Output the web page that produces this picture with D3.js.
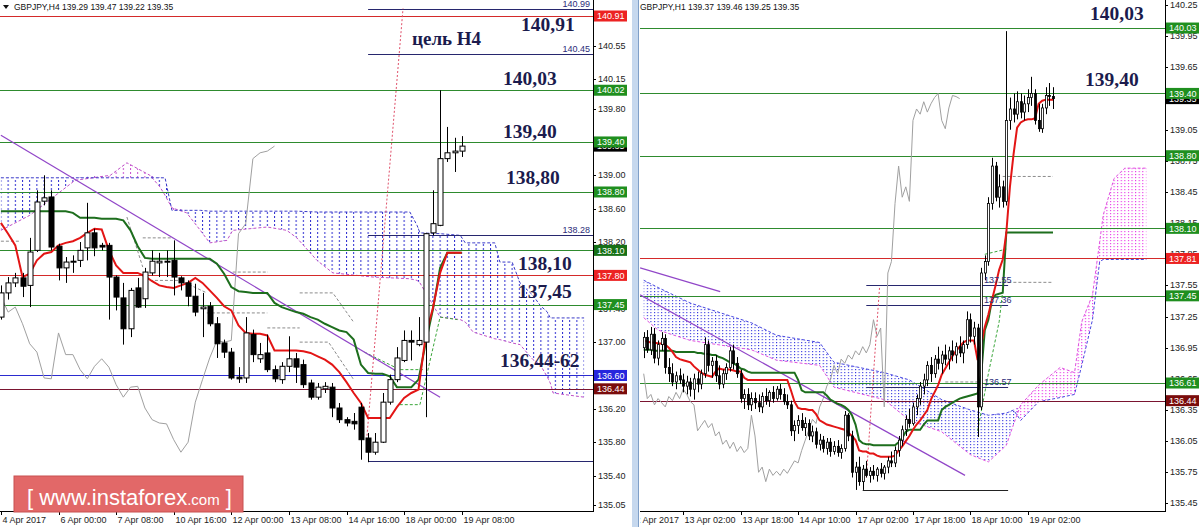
<!DOCTYPE html>
<html><head><meta charset="utf-8">
<script src="https://cdn.jsdelivr.net/npm/d3@7/dist/d3.min.js"></script>
<style>
html,body{margin:0;padding:0;background:#fff;}
svg{display:block;}
text{font-family:"Liberation Sans",Arial,sans-serif;}
text.note{font-family:"Liberation Serif","Times New Roman",serif;font-weight:bold;}
</style></head><body>
<svg id="chart" width="1200" height="527"></svg>
<script>
// ================= DATA : GBPJPY H4 (left) =================
const h4Candles = [ // [open, high, low, close]
[137.30,137.68,137.27,137.59],[137.59,137.78,137.51,137.71],[137.71,137.83,137.66,137.77],[137.77,137.83,137.54,137.67],
[137.68,138.25,137.42,138.08],[138.10,138.82,138.08,138.68],[138.69,139.00,138.64,138.73],[138.74,138.82,138.10,138.14],
[138.15,138.18,137.74,137.89],[137.89,138.02,137.71,137.96],[137.96,138.04,137.83,137.97],[137.98,138.20,137.90,138.10],
[138.13,138.67,137.98,138.31],[138.31,138.36,138.03,138.13],[138.16,138.19,138.10,138.14],[138.16,138.19,137.27,137.78],
[137.78,137.80,137.38,137.54],[137.53,137.71,136.97,137.16],[137.16,137.65,137.06,137.62],[137.65,137.77,137.41,137.42],
[137.52,137.89,137.41,137.84],[137.83,138.10,137.80,137.97],[137.95,138.07,137.78,137.97],[137.96,138.10,137.78,137.97],
[137.98,138.22,137.56,137.78],[137.77,137.79,137.62,137.71],[137.71,137.74,137.43,137.55],[137.55,137.70,137.31,137.36],
[137.40,137.59,137.06,137.42],[137.43,137.48,137.19,137.22],[137.22,137.30,136.81,136.98],[136.99,137.03,136.81,136.88],
[136.88,136.93,136.55,136.57],[136.58,136.70,136.51,136.56],[136.57,137.30,136.51,137.11],[137.09,137.15,136.76,136.85],
[136.80,136.99,136.75,136.85],[136.87,137.09,136.64,136.67],[136.67,136.72,136.52,136.56],[136.55,136.76,136.50,136.71],
[136.71,137.07,136.64,136.80],[136.80,136.87,136.51,136.70],[136.73,136.79,136.45,136.49],[136.51,136.55,136.31,136.34],
[136.34,136.51,136.31,136.46],[136.44,136.52,136.39,136.47],[136.46,136.51,136.10,136.21],[136.21,136.27,136.03,136.07],
[136.07,136.10,135.99,136.03],[136.05,136.15,135.95,136.02],[136.22,136.27,135.59,135.83],[135.85,135.91,135.56,135.68],
[135.68,135.91,135.65,135.80],[135.80,136.39,135.79,136.28],[136.28,136.61,136.25,136.55],[136.55,136.94,136.52,136.81],
[136.78,137.14,136.76,137.02],[137.02,137.14,136.78,137.00],[136.97,137.30,136.95,137.02],[137.00,138.31,136.10,138.30],
[138.31,138.82,138.28,138.42],[138.40,140.02,138.39,139.20],[139.20,139.58,139.16,139.27],[139.27,139.45,139.04,139.29],
[139.29,139.47,139.22,139.35]];
const h4Tenkan = [138.43,138.30,138.16,137.78,137.82,137.98,138.06,138.08,138.16,138.19,138.21,138.25,138.31,138.36,138.35,
138.10,137.92,137.83,137.83,137.83,137.79,137.73,137.68,137.66,137.65,137.68,137.71,137.77,137.71,137.62,137.53,137.43,
137.38,137.20,137.11,137.10,137.10,137.08,136.90,136.90,136.90,136.90,136.89,136.87,136.83,136.79,136.73,136.64,136.52,
136.39,136.27,136.09,136.09,136.09,136.09,136.22,136.33,136.39,136.43,137.08,137.41,137.83,138.07,138.07,138.07];
const h4Kijun = [138.57,138.57,138.57,138.57,138.57,138.57,138.57,138.57,138.57,138.57,138.55,138.49,138.49,138.49,138.48,
138.48,138.48,138.46,138.34,138.15,138.01,138.00,138.00,138.00,138.00,138.00,138.00,138.00,138.00,138.00,137.94,137.82,
137.66,137.61,137.60,137.59,137.59,137.59,137.47,137.42,137.39,137.36,137.34,137.30,137.27,137.22,137.18,137.14,137.12,
137.03,136.73,136.63,136.62,136.62,136.59,136.46,136.46,136.46,136.55,136.99,137.39,137.89,138.07,138.07,138.07];
const h4Cloud = [ // [bar, senkou A, senkou B]
[0,138.34,138.97],[4,138.52,138.97],[10.3,138.94,138.97],[15.2,139.00,138.97],[17.5,139.15,138.97],[20.7,139.00,138.97],
[22.1,138.86,138.97],[22.8,138.76,138.97],[23.75,138.61,138.58],[25.8,138.55,138.58],[27.7,138.34,138.58],[29,138.19,138.57],
[31.4,138.22,138.57],[32.2,138.34,138.57],[37,138.38,138.57],[39.7,138.34,138.57],[41.1,138.25,138.57],[43.9,137.98,138.56],
[46.1,137.83,138.56],[51.7,137.78,138.56],[56.8,137.76,138.56],[57.8,137.74,138.40],[58.2,137.71,138.31],[61,137.30,138.30],
[63.8,137.27,138.28],[64.5,137.24,138.19],[65.6,137.12,138.19],[68.6,137.04,138.19],[69.3,137.03,137.96],[71,136.99,137.96],
[72.1,136.97,137.71],[73.9,136.79,137.56],[74.9,136.73,137.44],[75.9,136.58,137.36],[76.3,136.51,137.29],[76.7,136.39,137.29],
[81,136.34,137.29]];
const h4GreenLevels = [140.02,139.40,138.80,138.10,137.45];
const h4RedLevels = [140.91,137.80];
const h4BlueLevels = [136.60];
const h4MaroonLevels = [136.44];
const h4MarkLevels = [140.99,140.45,138.28,135.57];
const h4MarkFrom = 51;
const h4Trend = [[0,139.48],[61,136.34]];
const h4RedDotted = [[50.8,135.83],[55.85,141.00]];
const h4DashGray = [
 [[0,138.21],[2.7,138.21]], [[17.5,138.50],[19.7,137.90]], [[19.7,138.25],[23.9,138.25]],
 [[20.7,137.74],[24.9,137.74],[28.6,137.59]], [[28.6,137.35],[37,137.35]], [[32.2,137.84],[37.1,137.84]],
 [[37,137.17],[41.5,137.17]], [[41.5,137.59],[46.1,137.59],[48.9,137.25]], [[41.5,137.0],[45.5,137.0],[49,136.55]]];
const h4DashGreen = [
 [[50.5,136.88],[55.4,136.67],[58.6,136.67]], [[55.4,136.25],[58.2,136.25],[61,137.30],[63.4,137.27]]];
const h4YTicks = [140.55,140.15,139.80,139.40,139.00,138.60,138.20,137.80,137.40,137.00,136.60,136.20,135.80,135.40,135.05];
const h4TimeBars = [0,8,16,24,32,40,48,56,64];
const h4TimeLabels = ["4 Apr 2017","6 Apr 00:00","7 Apr 08:00","10 Apr 16:00","12 Apr 00:00","13 Apr 08:00","14 Apr 16:00","18 Apr 00:00","19 Apr 08:00"];
const h4Header = "GBPJPY,H4  139.29 139.47 139.22 139.35";
const h4Notes = ["цель H4","140,91","140,03","139,40","138,80","138,10","137,45","136,44-62"];

// ================= DATA : GBPJPY H1 (right) =================
const h1Candles = [
[136.95,137.10,136.85,137.05],[137.05,137.12,136.90,136.93],[136.93,137.15,136.88,137.08],[137.08,137.14,136.80,136.85],
[136.85,137.02,136.78,136.98],[136.98,137.10,136.92,137.04],[137.04,137.08,136.70,136.76],[136.76,136.85,136.62,136.70],
[136.70,136.80,136.58,136.62],[136.62,136.72,136.55,136.68],[136.68,136.75,136.60,136.64],[136.64,136.70,136.52,136.58],
[136.58,136.68,136.50,136.62],[136.62,136.66,136.48,136.55],[136.55,136.70,136.45,136.65],[136.65,136.72,136.52,136.60],
[136.60,136.74,136.55,136.70],[136.70,137.05,136.66,136.98],[136.98,137.02,136.72,136.78],[136.78,136.86,136.66,136.82],
[136.82,136.88,136.62,136.68],[136.68,136.78,136.55,136.60],[136.60,136.74,136.56,136.70],[136.70,136.80,136.64,136.76],
[136.76,136.96,136.72,136.92],[136.92,136.98,136.74,136.80],[136.80,136.86,136.66,136.70],[136.70,136.74,136.42,136.46],
[136.46,136.55,136.36,136.50],[136.50,136.56,136.35,136.40],[136.40,136.52,136.34,136.46],[136.46,136.52,136.36,136.42],
[136.42,136.50,136.33,136.38],[136.38,136.52,136.32,136.48],[136.48,136.56,136.40,136.44],[136.44,136.54,136.38,136.52],
[136.52,136.58,136.42,136.46],[136.46,136.58,136.44,136.55],[136.55,136.60,136.45,136.50],[136.50,136.56,136.40,136.43],
[136.43,136.50,136.36,136.40],[136.40,136.44,136.10,136.15],[136.15,136.25,136.05,136.20],[136.20,136.30,136.12,136.25],
[136.25,136.32,136.15,136.18],[136.18,136.28,136.10,136.22],[136.22,136.26,136.06,136.10],[136.10,136.20,136.04,136.14],
[136.14,136.18,135.98,136.02],[136.02,136.12,135.96,136.06],[136.06,136.10,135.94,135.98],[135.98,136.08,135.92,136.04],
[136.04,136.08,135.90,135.95],[135.95,136.05,135.92,136.00],[136.00,136.06,135.90,135.94],[135.94,136.02,135.88,135.98],
[135.98,136.34,135.95,136.30],[136.30,136.32,136.05,136.10],[136.10,136.15,135.70,135.75],[135.75,135.85,135.58,135.80],
[135.80,135.90,135.62,135.66],[135.66,135.82,135.58,135.78],[135.78,135.86,135.70,135.72],[135.72,135.80,135.65,135.76],
[135.76,135.82,135.68,135.72],[135.72,135.80,135.66,135.78],[135.78,135.84,135.70,135.74],[135.74,135.82,135.68,135.80],
[135.80,135.90,135.74,135.86],[135.86,135.95,135.80,135.84],[135.84,136.00,135.80,135.96],[135.96,136.10,135.90,136.06],
[136.06,136.20,136.00,136.16],[136.16,136.30,136.10,136.26],[136.26,136.36,136.18,136.22],[136.22,136.42,136.20,136.38],
[136.38,136.50,136.30,136.46],[136.46,136.62,136.40,136.58],[136.58,136.70,136.50,136.64],[136.64,136.82,136.58,136.78],
[136.78,136.86,136.62,136.70],[136.70,136.88,136.66,136.84],[136.84,136.96,136.74,136.80],[136.80,136.92,136.70,136.88],
[136.88,136.98,136.78,136.84],[136.84,136.96,136.74,136.92],[136.92,137.02,136.82,136.88],[136.88,137.00,136.80,136.96],
[136.96,137.06,136.86,136.90],[136.90,137.02,136.80,136.98],[136.98,137.30,136.94,137.22],[137.22,137.28,137.00,137.06],
[137.06,137.20,136.98,137.14],[137.14,137.18,136.09,136.38],[136.38,137.72,136.35,137.67],[137.67,137.84,137.60,137.78],
[137.78,138.40,137.74,138.34],[138.34,138.78,138.28,138.70],[138.70,138.74,138.36,138.40],[138.40,138.62,138.30,138.50],
[138.50,138.56,138.30,138.36],[138.36,140.00,138.32,139.14],[139.14,139.36,139.05,139.25],[139.25,139.40,139.12,139.20],
[139.20,139.42,139.15,139.32],[139.32,139.40,139.16,139.22],[139.22,139.38,139.14,139.30],[139.30,139.44,139.22,139.36],
[139.36,139.56,139.28,139.40],[139.40,139.44,139.10,139.14],[139.14,139.30,139.03,139.06],[139.06,139.30,139.02,139.26],
[139.26,139.46,139.20,139.38],[139.38,139.50,139.28,139.37],[139.37,139.46,139.25,139.35]];
const h1Tenkan = [137.02,137.01,137.00,137.00,136.99,136.99,136.98,136.95,136.91,136.86,136.84,136.83,136.82,136.81,136.77,
136.74,136.71,136.69,136.68,136.67,136.72,136.75,136.74,136.74,136.74,136.73,136.72,136.72,136.66,136.64,
136.64,136.64,136.64,136.64,136.64,136.64,136.64,136.64,136.64,136.64,136.64,
136.54,136.43,136.37,136.36,136.36,136.35,136.35,136.31,136.25,136.23,136.21,136.20,136.19,136.18,136.17,136.16,136.13,
136.10,136.06,135.96,135.95,135.95,135.93,135.93,135.91,135.90,135.90,135.90,135.90,135.91,135.96,136.00,136.05,136.10,
136.16,136.21,136.25,136.30,136.35,136.45,136.52,136.59,136.69,136.75,136.81,136.87,136.92,136.96,137.00,137.02,137.02,
137.02,136.83,136.98,137.15,137.27,137.41,137.55,137.70,137.80,138.06,138.50,138.81,139.07,139.12,139.14,139.15,139.15,
139.16,139.30,139.33,139.34,139.34,139.34];
const h1Kijun = [136.93,136.93,136.93,136.92,136.92,136.92,136.92,136.92,136.92,136.91,136.91,136.91,136.91,136.91,136.91,
136.90,136.90,136.89,136.89,136.88,136.88,136.86,136.85,136.83,136.81,136.80,136.78,136.75,136.74,136.72,
136.71,136.71,136.71,136.71,136.71,136.71,136.71,136.71,136.71,136.71,136.71,136.71,136.71,
136.64,136.54,136.52,136.52,136.52,136.52,136.52,136.52,136.49,136.45,136.43,136.41,136.40,136.38,136.35,136.30,136.21,
136.06,136.03,136.02,136.02,136.01,136.01,136.01,136.01,136.01,136.01,136.01,136.04,136.08,136.14,136.16,136.16,136.16,
136.16,136.21,136.25,136.25,136.25,136.25,136.35,136.38,136.40,136.42,136.44,136.46,136.47,136.48,136.49,136.50,136.51,
136.69,137.12,137.22,137.41,137.46,137.47,137.48,138.06,
138.06,138.06,138.06,138.06,138.06,138.06,138.06,138.06,138.06,138.06,138.06,138.06,138.06];
const h1Cloud = [
[0,137.24,137.60],[4,137.12,137.53],[13,137.02,137.38],[30,136.93,137.19],[37,136.83,137.07],[49,136.78,137.00],
[53,136.57,136.81],[67,136.45,136.71],[74,136.25,136.64],[83,136.14,136.45],[91,135.92,136.35],[96,135.85,136.30],
[101,136.01,136.32],[103,136.21,136.35],[105,136.40,136.25],[110,136.59,136.43],[116,136.76,136.47],[120,136.71,136.50],
[122,137.20,136.78],[125,137.46,137.22],[127,137.97,137.78],[128,138.23,137.80],[131,138.58,137.80],[134,138.68,137.80],
[140,138.68,137.80]];
const h1GreenLevels = [140.03,139.40,138.80,138.10,137.45,136.61];
const h1RedLevels = [137.81];
const h1MaroonLevels = [136.44];
const h1MarkLevels = [137.55,137.36,136.57];
const h1MarkBars = [62,101.5];
const h1LowLevel = [135.58];
const h1TrendA = [[-1,137.72],[21.3,137.49]];
const h1TrendB = [[-1,137.46],[89.5,135.72]];
const h1RedDotted = [[62,135.70],[65.7,137.54]];
const h1DashGray = [[[100,138.60],[114,138.60]], [[96,137.58],[114,137.58]], [[84,136.62],[93,136.62]]];
const h1DashGreen = [[[93,136.15],[96,136.70],[99,137.20],[100,137.50]], [[95,137.85],[101,137.90]]];
const h1YTicks = [140.25,139.95,139.65,139.35,139.05,138.75,138.45,138.15,137.85,137.55,137.25,136.95,136.65,136.35,136.05,135.75,135.45];
const h1TimeBars = [-4,11,27,43,59,75,91,107];
const h1TimeLabels = ["12 Apr 2017","13 Apr 02:00","13 Apr 18:00","14 Apr 10:00","17 Apr 02:00","17 Apr 18:00","18 Apr 10:00","19 Apr 02:00"];
const h1Header = "GBPJPY,H1  139.37 139.46 139.25 139.35";
const h1Notes = ["140,03","139,40"];

// ================= DRAWING =================
const svg = d3.select('#chart');
const defs = svg.append('defs');
const AXY = 511;
const fmt = d3.format('.2f');
const NAVY = '#1b1b4d';

function drawPanel(p) {
  const n = p.candles.length;
  const x = d3.scaleLinear().domain([0, n-1]).range(p.xRange);
  const y = d3.scaleLinear().domain(p.yDomain).range([AXY, 0]);
  const step = x(1) - x(0);
  const cid = 'clip' + p.id;
  defs.append('clipPath').attr('id', cid).append('rect')
    .attr('x', p.x0).attr('y', 0).attr('width', p.x1 - p.x0).attr('height', AXY);
  const g = svg.append('g').attr('clip-path', `url(#${cid})`);

  // cloud patterns
  const cols = {blue: p.cloudBlue, pink: p.cloudPink};
  Object.keys(cols).forEach(k => {
    const pt = defs.append('pattern').attr('id', `pat${p.id}${k}`).attr('patternUnits', 'userSpaceOnUse')
      .attr('width', step).attr('height', p.dotH).attr('patternTransform', `translate(${x(0) - 0.5},0)`);
    pt.append('rect').attr('width', p.dotW).attr('height', p.dotOn).attr('fill', cols[k]);
  });
  const cl = p.cloud;
  g.append('path').datum(cl).attr('fill', `url(#pat${p.id}blue)`)
    .attr('d', d3.area().x(d => x(d[0])).y0(d => y(d[1])).y1(d => y(Math.max(d[1], d[2]))));
  g.append('path').datum(cl).attr('fill', `url(#pat${p.id}pink)`)
    .attr('d', d3.area().x(d => x(d[0])).y0(d => y(d[2])).y1(d => y(Math.max(d[1], d[2]))));
  g.append('path').datum(cl).attr('fill', 'none').attr('stroke', p.spanAColor).attr('stroke-width', 1).attr('stroke-dasharray', '3,2')
    .attr('d', d3.line().x(d => x(d[0])).y(d => y(d[1])));
  g.append('path').datum(cl).attr('fill', 'none').attr('stroke', p.spanBColor).attr('stroke-width', 1).attr('stroke-dasharray', '3,2')
    .attr('d', d3.line().x(d => x(d[0])).y(d => y(d[2])));

  // horizontal levels
  p.levels.forEach(([vals, col]) => {
    g.selectAll(null).data(vals).enter().append('line')
      .attr('x1', p.x0).attr('x2', p.x1).attr('y1', d => Math.round(y(d)) + 0.5).attr('y2', d => Math.round(y(d)) + 0.5)
      .attr('stroke', col).attr('stroke-width', 1);
  });
  // short navy marker lines
  p.marks.forEach(([vals, from, to, col]) => {
    g.selectAll(null).data(vals).enter().append('line')
      .attr('x1', x(from)).attr('x2', to === null ? p.x1 : x(to))
      .attr('y1', d => Math.round(y(d)) + 0.5).attr('y2', d => Math.round(y(d)) + 0.5)
      .attr('stroke', col).attr('stroke-width', 1);
  });

  const line = d3.line().x(d => x(d[0])).y(d => y(d[1]));
  p.dashGray.forEach(seg => g.append('path').datum(seg).attr('d', line).attr('fill', 'none')
    .attr('stroke', '#8c8c8c').attr('stroke-dasharray', '3,2').attr('stroke-width', 1));
  p.dashGreen.forEach(seg => g.append('path').datum(seg).attr('d', line).attr('fill', 'none')
    .attr('stroke', '#3aa63a').attr('stroke-dasharray', '3,2').attr('stroke-width', 1));

  // chikou (close shifted back 26 bars)
  const closes = p.candles.map(c => c[3]);
  const chikou = closes.slice(26).map((c, i) => [i, c]);
  g.append('path').datum(chikou).attr('d', line).attr('fill', 'none').attr('stroke', '#a0a0a0').attr('stroke-width', 1);

  // trend lines
  p.trends.forEach(t => g.append('path').datum(t).attr('d', line).attr('fill', 'none')
    .attr('stroke', '#9146c8').attr('stroke-width', 1.2));
  g.append('path').datum(p.redDotted).attr('d', line).attr('fill', 'none')
    .attr('stroke', '#e0506a').attr('stroke-width', 1).attr('stroke-dasharray', '2,2');

  // kijun & tenkan
  const pl = d3.line().x((d, i) => x(i)).y(d => y(d));
  g.append('path').datum(p.kijun).attr('d', pl).attr('fill', 'none').attr('stroke', '#1d6e1d').attr('stroke-width', 2);
  g.append('path').datum(p.tenkan).attr('d', pl).attr('fill', 'none').attr('stroke', '#e31515').attr('stroke-width', 2);

  // candles
  const cg = g.append('g');
  const bw = p.bodyW;
  p.candles.forEach((c, i) => {
    const [o, h, l, cl2] = c;
    const cx = Math.round(x(i)) + 0.5;
    cg.append('line').attr('x1', cx).attr('x2', cx).attr('y1', y(h)).attr('y2', y(l)).attr('stroke', '#000').attr('stroke-width', 1);
    const top = y(Math.max(o, cl2)), bot = y(Math.min(o, cl2));
    cg.append('rect').attr('x', cx - bw / 2).attr('y', top).attr('width', bw).attr('height', Math.max(1, bot - top))
      .attr('fill', cl2 >= o ? '#fff' : '#000').attr('stroke', '#000').attr('stroke-width', p.bodyStroke);
  });

  // mark labels
  p.markLabels.forEach(([v, lx, anchor]) => {
    svg.append('text').attr('x', lx).attr('y', y(v) - 2).attr('text-anchor', anchor)
      .attr('font-size', 9).attr('fill', '#2c2c7a').text(fmt(v));
  });

  // big annotation labels (bold serif)
  p.notes.forEach(([txt, lx, v, dy, fs]) => {
    svg.append('text').attr('class', 'note').attr('x', lx).attr('y', y(v) + dy)
      .style('font-size', (fs || 19.5) + 'px').attr('fill', NAVY).text(txt);
  });

  // header
  svg.append('text').attr('x', p.headerX).attr('y', 10).style('font-size', '8.5px').attr('fill', '#111').text(p.header);

  // price axis
  const ax = p.x1;
  svg.append('line').attr('x1', ax + 0.5).attr('x2', ax + 0.5).attr('y1', 0).attr('y2', AXY).attr('stroke', '#000');
  const boxY = p.boxes.map(b => y(b[0]));
  p.yTicks.forEach(v => {
    const ty = Math.round(y(v)) + 0.5;
    svg.append('line').attr('x1', ax).attr('x2', ax + 3).attr('y1', ty).attr('y2', ty).attr('stroke', '#000');
    // a label that lies completely under a price box is not visible in the original
    if (boxY.some(by => Math.abs(by - y(v)) < 4)) return;
    svg.append('text').attr('x', ax + 5).attr('y', y(v) + 3).attr('font-size', 9).attr('fill', '#222').text(fmt(v));
  });
  p.boxes.forEach(([v, col]) => {
    const by = y(v);
    svg.append('rect').attr('x', ax + 1).attr('y', by - 5.5).attr('width', 33).attr('height', 11).attr('fill', col);
    svg.append('text').attr('x', ax + 4).attr('y', by + 3.2).attr('font-size', 9).attr('fill', '#fff').text(fmt(v));
  });

  // time axis
  svg.append('line').attr('x1', p.x0).attr('x2', ax + 1).attr('y1', AXY + 0.5).attr('y2', AXY + 0.5).attr('stroke', '#000');
  const tcid = 'tclip' + p.id;
  defs.append('clipPath').attr('id', tcid).append('rect').attr('x', p.x0).attr('y', AXY).attr('width', ax - p.x0 + 40).attr('height', 20);
  const tg = svg.append('g').attr('clip-path', `url(#${tcid})`);
  p.timeBars.forEach((b, k) => {
    const tx = Math.round(x(b)) + 0.5;
    tg.append('line').attr('x1', tx).attr('x2', tx).attr('y1', AXY).attr('y2', AXY + 4).attr('stroke', '#000');
    tg.append('text').attr('x', tx + 1).attr('y', AXY + 12).attr('font-size', 9).attr('fill', '#222').text(p.timeLabels[k]);
  });
}

// left panel
drawPanel({
  id: 'L', candles: h4Candles, tenkan: h4Tenkan, kijun: h4Kijun, cloud: h4Cloud,
  xRange: [0.9, 461.7], yDomain: [134.975, 141.102], x0: 0, x1: 593,
  cloudBlue: '#2a2ad0', cloudPink: '#c84fd0', spanAColor: '#c050c8', spanBColor: '#3a3ac8', dotH: 4, dotOn: 2, dotW: 1,
  levels: [[h4GreenLevels, '#2e8b2e'], [h4RedLevels, '#d42a2a'], [h4BlueLevels, '#2b2bcf'], [h4MaroonLevels, '#7a1430']],
  marks: [[h4MarkLevels, h4MarkFrom, null, '#27276e']],
  markLabels: [[h4MarkLevels[0], 590, 'end'], [h4MarkLevels[1], 590, 'end'], [h4MarkLevels[2], 590, 'end']],
  dashGray: h4DashGray, dashGreen: h4DashGreen, trends: [h4Trend], redDotted: h4RedDotted,
  bodyW: 5, bodyStroke: 1,
  notes: [[h4Notes[0], 412, 140.91, 29, 19], [h4Notes[1], 521, 140.91, 15], [h4Notes[2], 503, 140.02, -5], [h4Notes[3], 503, 139.40, -4],
          [h4Notes[4], 506, 138.80, -8], [h4Notes[5], 518, 138.10, 20], [h4Notes[6], 518, 137.45, -7], [h4Notes[7], 500, 136.60, -8]],
  header: h4Header, headerX: 14,
  yTicks: h4YTicks,
  boxes: [[h4RedLevels[0], '#ec2222'], [h4GreenLevels[0], '#1f8f1f'], [h4Candles[h4Candles.length - 1][3], '#000'],
          [h4GreenLevels[1], '#1f8f1f'], [h4GreenLevels[2], '#1f8f1f'], [h4GreenLevels[3], '#167016'], [h4RedLevels[1], '#ec2222'],
          [h4GreenLevels[4], '#1f8f1f'], [h4BlueLevels[0], '#2626dd'], [h4MaroonLevels[0], '#7a0c0c']],
  timeBars: h4TimeBars, timeLabels: h4TimeLabels
});

// right panel
drawPanel({
  id: 'R', candles: h1Candles, tenkan: h1Tenkan, kijun: h1Kijun, cloud: h1Cloud,
  xRange: [643.7, 1053], yDomain: [135.377, 140.300], x0: 640, x1: 1165,
  cloudBlue: '#3535e0', cloudPink: '#e838e8', spanAColor: '#e050e0', spanBColor: '#4848e0', dotH: 3, dotOn: 1.2, dotW: 1.1,
  levels: [[h1GreenLevels, '#2e8b2e'], [h1RedLevels, '#d42a2a'], [h1MaroonLevels, '#7a1430']],
  marks: [[h1MarkLevels, h1MarkBars[0], h1MarkBars[1], '#27276e'], [h1LowLevel, h1MarkBars[0] - 1, h1MarkBars[1], '#222']],
  markLabels: [[h1MarkLevels[0], 984, 'start'], [h1MarkLevels[1], 984, 'start'], [h1MarkLevels[2], 984, 'start']],
  dashGray: h1DashGray, dashGreen: h1DashGreen, trends: [h1TrendA, h1TrendB], redDotted: h1RedDotted,
  bodyW: 2, bodyStroke: 0.8,
  notes: [[h1Notes[0], 1090, 140.03, -8], [h1Notes[1], 1085, 139.40, -7]],
  header: h1Header, headerX: 640,
  yTicks: h1YTicks,
  boxes: [[h1GreenLevels[0], '#1f8f1f'], [h1Candles[h1Candles.length - 1][3], '#000'], [h1GreenLevels[1], '#1f8f1f'],
          [h1GreenLevels[2], '#1f8f1f'], [h1GreenLevels[3], '#1f8f1f'], [h1RedLevels[0], '#ec2222'], [h1GreenLevels[4], '#1f8f1f'],
          [h1GreenLevels[5], '#1f8f1f'], [h1MaroonLevels[0], '#7a0c0c']],
  timeBars: h1TimeBars, timeLabels: h1TimeLabels
});

// header triangle
svg.append('path').attr('d', 'M3,5 L9,5 L6,9 Z').attr('fill', '#111');

// panel separator
svg.append('rect').attr('x', 632).attr('y', 0).attr('width', 7).attr('height', 527).attr('fill', '#c6d8ee');
svg.append('line').attr('x1', 638.5).attr('x2', 638.5).attr('y1', 0).attr('y2', 527).attr('stroke', '#7f9fc8');

// logo
svg.append('rect').attr('x', 14).attr('y', 476).attr('width', 229).attr('height', 36).attr('fill', '#e26868').attr('stroke', '#c85050');
const lt = svg.append('text').attr('x', 27).attr('y', 505).attr('fill', '#fff').style('font-size', '22px');
lt.append('tspan').text('[ www.instaforex');
lt.append('tspan').style('font-size', '15px').text('.com');
lt.append('tspan').text(' ]');
</script></body></html>
